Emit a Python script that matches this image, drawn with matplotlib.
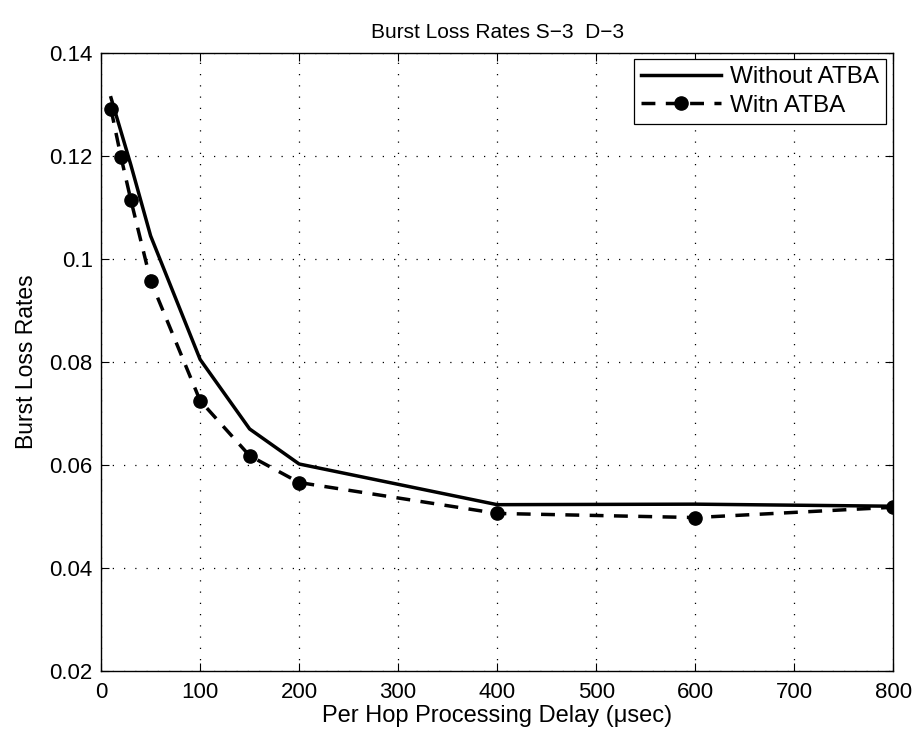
import matplotlib
matplotlib.use('Agg')
import matplotlib.pyplot as plt

plt.rcParams['font.family'] = ['Liberation Sans', 'DejaVu Sans']

delay = [10, 20, 30, 50, 100, 150, 200, 400, 600, 800]
without_atba = [0.1313, 0.1248, 0.1183, 0.1045, 0.0805, 0.0670, 0.0602, 0.0523, 0.0524, 0.0520]
with_atba = [0.1291, 0.1199, 0.1115, 0.0958, 0.0725, 0.0618, 0.0566, 0.0506, 0.0498, 0.0518]

xticks = [0, 100, 200, 300, 400, 500, 600, 700, 800]
yticks = [0.02, 0.04, 0.06, 0.08, 0.1, 0.12, 0.14]
ytick_labels = ['0.02', '0.04', '0.06', '0.08', '0.1', '0.12', '0.14']

fig = plt.figure(figsize=(9.19, 7.4), dpi=100)
ax = fig.add_axes([0.110, 0.0932, 0.862, 0.8352])

ax.plot(delay, without_atba, color='black', lw=2.5, label='Without ATBA')
ax.plot(delay, with_atba, color='black', lw=2.5, ls=(0, (4, 3)), marker='o',
        markersize=9.5, label='Witn ATBA')

ax.set_xlim(0, 800)
ax.set_ylim(0.02, 0.14)
ax.set_xticks(xticks)
ax.set_yticks(yticks)
ax.set_yticklabels(ytick_labels)
ax.tick_params(direction='in', length=6, top=True, right=True, labelsize=16, width=0.8)
ax.tick_params(axis='x', pad=8)
ax.tick_params(axis='y', pad=6)
ax.grid(True, color='black', ls=(0, (1, 8)), lw=0.9)
for s in ax.spines.values():
    s.set_linewidth(1.0)

ax.set_title('Burst Loss Rates S\u22123  D\u22123', fontsize=15, pad=11)
ax.set_xlabel('Per Hop Processing Delay (\u03bcsec)', fontsize=17, labelpad=1)
ax.set_ylabel('Burst Loss Rates', fontsize=16.5, labelpad=8)

leg = ax.legend(loc='upper right', bbox_to_anchor=(0.991, 0.99), fontsize=17.5,
                frameon=True, fancybox=False, edgecolor='black', framealpha=1,
                borderaxespad=0, handlelength=3.3, labelspacing=0.25,
                borderpad=0.3, handletextpad=0.35)
leg.get_frame().set_linewidth(0.9)

fig.savefig('out.png', dpi=100)
